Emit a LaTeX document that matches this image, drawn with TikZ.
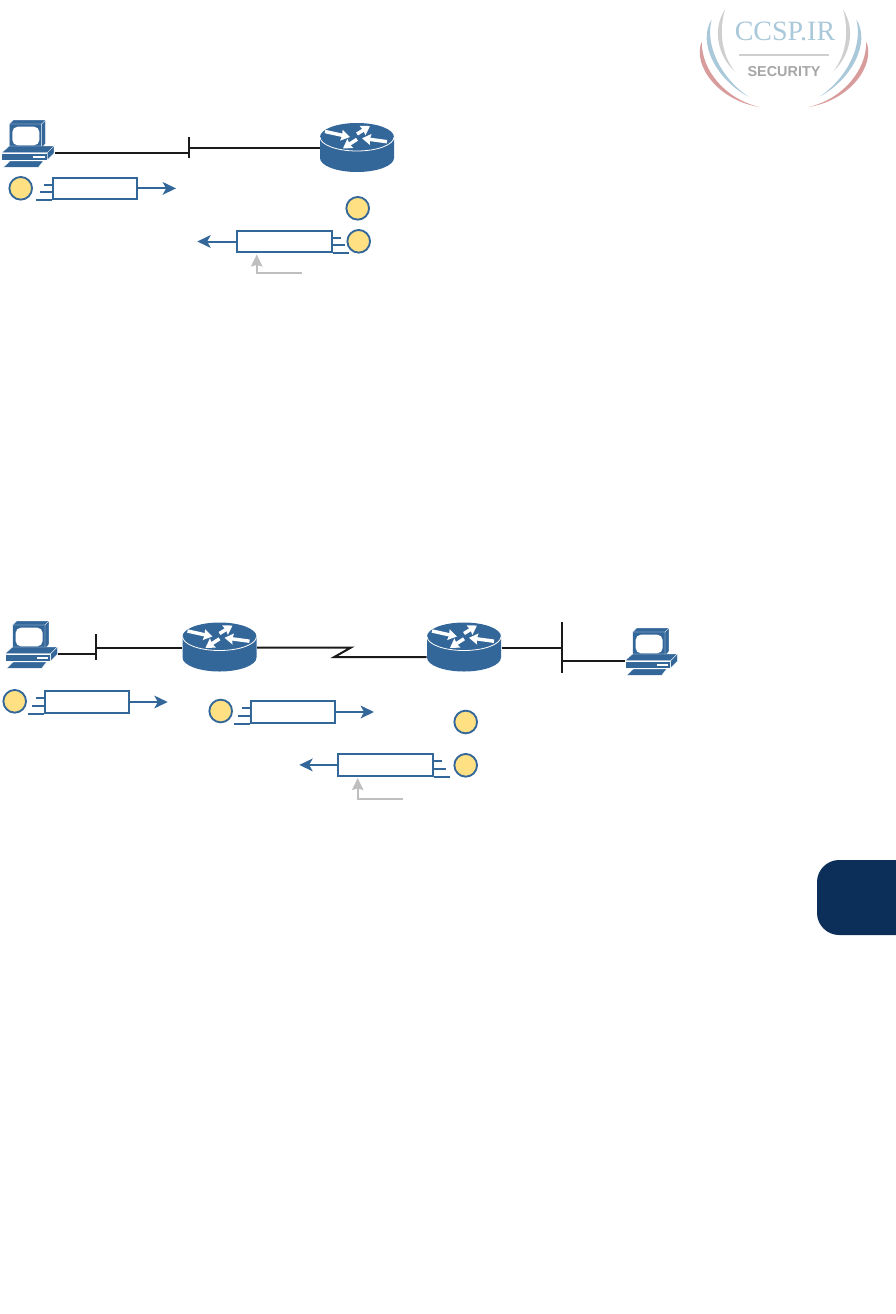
\documentclass[tikz,border=0pt]{standalone}
\usepackage{fontspec}
\setmainfont{Liberation Serif}
\newfontfamily\logosans{Liberation Sans}
\usetikzlibrary{arrows.meta,calc}
\definecolor{ciscoblue}{HTML}{336699}
\definecolor{wirek}{HTML}{1A1A1A}
\definecolor{dotfill}{HTML}{FFE184}
\definecolor{hintgray}{HTML}{BFBFBF}
\definecolor{tabnavy}{HTML}{0B2F59}
\definecolor{logoblue}{HTML}{A9C8DA}
\definecolor{logored}{HTML}{D99C9C}
\definecolor{logogray}{HTML}{CFCFCF}
\definecolor{logotext}{HTML}{A6A6A6}
\tikzset{
  wire/.style={draw=wirek,line width=1.5pt},
  bluewire/.style={draw=ciscoblue,line width=1.5pt},
  flowhead/.style={bluewire,-{Stealth[length=10pt,width=9.5pt,inset=2.6pt]}},
  hint/.style={draw=hintgray,line width=1.5pt,-{Stealth[length=9pt,width=8.5pt,inset=1.2pt]}},
  stepdot/.style={circle,draw=ciscoblue,fill=dotfill,line width=1.4pt,minimum size=17pt,inner sep=0pt},
  packetbox/.style={rectangle,draw=ciscoblue,fill=white,line width=1.5pt,minimum width=63pt,minimum height=16pt,inner sep=0pt},
  wideflip/.style={packetbox,minimum width=71.5pt},
  whitearrow/.style={draw=white,line width=2.6pt,-{Stealth[length=6.5pt,width=8pt,inset=.6pt]}},
  pcpart/.style={fill=ciscoblue,draw=white,line width=.25pt},
  router/.pic={
    \fill[ciscoblue] (-37,0) .. controls (-37,-7.7) and (-20.4,-14) .. (0,-14)
       .. controls (20.4,-14) and (37,-7.7) .. (37,0) -- (37,21)
       .. controls (37,28.7) and (20.4,35) .. (0,35)
       .. controls (-20.4,35) and (-37,28.7) .. (-37,21) -- cycle;
    \draw[white,line width=.6pt] (-37,0) .. controls (-37,7.7) and (-20.4,14) .. (0,14)
       .. controls (20.4,14) and (37,7.7) .. (37,0);
    \draw[whitearrow] (-32,-5.5) -- (-7,0);
    \draw[whitearrow] (0,-3) -- (13,-11);
    \draw[whitearrow] (30,4.7) -- (5,1.3);
    \draw[whitearrow] (0,2.3) -- (-14,11.3);
    \coordinate (-w) at (-37.5,11);
    \coordinate (-e) at (37.5,11);
  },
  computer/.pic={
    \begin{scope}[scale=1/3]
      \path[pcpart] (28,42) -- (40,30) -- (137,30) -- (137,100) -- (125,115) -- (28,115) -- cycle;
      \path[draw=white,line width=.25pt] (28,42) -- (125,42) -- (137,30) (125,42) -- (125,115);
      \fill[white,rounded corners=4pt] (37,50) rectangle (118,106);
      \path[pcpart] (5,128) -- (28,108) -- (162,108) -- (142,128) -- cycle;
      \path[pcpart] (5,128) -- (142,128) -- (142,150) -- (5,150) -- cycle;
      \path[pcpart] (142,128) -- (162,108) -- (162,130) -- (142,150) -- cycle;
      \fill[white] (100,137) rectangle (135,143);
      \path[pcpart] (10,172) -- (30,153) -- (130,153) -- (115,172) -- cycle;
    \end{scope}
    \coordinate (-e) at (55,42.7);
    \coordinate (-w) at (1.7,42.7);
  },
  logowing/.pic={
    \fill[logored] (-247,125) .. controls (-275,195) and (-200,300) .. (-74,321)
       .. controls (-172,298) and (-247,215) .. (-247,125) -- cycle;
    \fill[logoblue] (-217,58) .. controls (-262,130) and (-200,240) .. (-107,290)
       .. controls (-187,235) and (-238,140) .. (-217,58) -- cycle;
    \fill[logogray] (-177,28) .. controls (-217,90) and (-197,170) .. (-147,215)
       .. controls (-187,165) and (-196,95) .. (-177,28) -- cycle;
  }
}
\newcommand{\ticksonleft}[1]{%
  \draw[bluewire] (#1.south west) -- +(-16,0);
  \draw[bluewire] ([yshift=5.9pt]#1.south west) -- +(-12,0);
  \draw[bluewire] ([yshift=11.6pt]#1.south west) -- +(-8,0);
}
\newcommand{\ticksonright}[1]{%
  \draw[bluewire] (#1.south east) -- +(16,0);
  \draw[bluewire] ([yshift=5.9pt]#1.south east) -- +(12,0);
  \draw[bluewire] ([yshift=11.6pt]#1.south east) -- +(8,0);
}
\begin{document}
\begin{tikzpicture}[x=0.75pt,y=-0.75pt]
\useasboundingbox (0,0) rectangle (896,1314);

% chapter tab
\fill[tabnavy] (896,860) -- (839,860) .. controls (827,860) and (817,870) .. (817,882)
  -- (817,913) .. controls (817,925) and (827,935) .. (839,935) -- (896,935) -- cycle;

% logo
\begin{scope}[shift={(784,0)},x=0.25pt,y=-0.25pt]
  \pic {logowing};
  \pic[xscale=-1] {logowing};
\end{scope}
\node[text=logoblue,font=\fontsize{21pt}{21pt}\selectfont,inner sep=0pt,anchor=base] (logoname) at (785,40) {CCSP.IR};
\fill[logogray] (739,53.7) rectangle (829,56.3);
\node[text=logotext,font=\logosans\bfseries\fontsize{10.8pt}{10.8pt}\selectfont,inner sep=0pt,anchor=base] (logosub) at (784,76) {SECURITY};

% --- top diagram ---
\pic (pcA) at (0,110) {computer};
\pic (rA) at (357,137) {router};
\coordinate (barAt) at (189,137.3);
\coordinate (barAb) at (189,158.3);
\draw[wire] (barAt) -- (barAb);
\draw[wire] (pcA-e) -- (pcA-e -| barAt);
\draw[wire] (rA-w) -- (rA-w -| barAt);

\node[stepdot] (dotA) at (20.7,188.3) {};
\node[packetbox] (boxA) at (95.3,188.4) {};
\ticksonleft{boxA}
\coordinate (endA) at (176,188.4);
\draw[flowhead] (boxA.east) -- (endA);

\node[stepdot] (dotB) at (357.7,208.3) {};
\node[stepdot] (dotC) at (358.7,241.3) {};
\node[wideflip] (boxB) at (284.5,241.5) {};
\ticksonright{boxB}
\coordinate (endB) at (197.3,241.5);
\draw[flowhead] (boxB.west) -- (endB);
\coordinate (hintA) at (302,272.7);
\coordinate (hintAc) at (256.7,272.7);
\coordinate (hintAt) at (256.7,254.5);
\draw[hint] (hintA) -- (hintAc) -- (hintAt);

% --- lower diagram ---
\pic (pcB) at (3.3,611) {computer};
\pic (rB) at (219.5,636.5) {router};
\pic (rC) at (464,636.5) {router};
\pic (pcC) at (623.3,618) {computer};

\coordinate (barBt) at (96,634);
\coordinate (barBb) at (96,660);
\draw[wire] (barBt) -- (barBb);
\draw[wire] (pcB-e) -- (pcB-e -| barBt);
\draw[wire] (rB-w) -- (rB-w -| barBt);

\coordinate (zigA) at (351,647.5);
\coordinate (zigB) at (334.3,657);
\draw[wire,line join=miter] (rB-e) -- (zigA) -- (zigB) -- (zigB -| rC-w);

\coordinate (barCt) at (562,622);
\coordinate (barCb) at (562,672.7);
\draw[wire] (barCt) -- (barCb);
\draw[wire] (rC-e) -- (rC-e -| barCt);
\draw[wire] (pcC-w) -- (pcC-w -| barCt);

\node[stepdot] (dotD) at (14.7,701.3) {};
\node[packetbox] (boxC) at (86.5,702) {};
\ticksonleft{boxC}
\coordinate (endC) at (167.7,702);
\draw[flowhead] (boxC.east) -- (endC);

\node[stepdot] (dotE) at (220.7,711) {};
\node[packetbox] (boxD) at (292.5,712) {};
\ticksonleft{boxD}
\coordinate (endD) at (374,712);
\draw[flowhead] (boxD.east) -- (endD);

\node[stepdot] (dotF) at (465.7,722) {};
\node[stepdot] (dotG) at (465.7,765.3) {};
\node[wideflip] (boxE) at (385.7,764.9) {};
\ticksonright{boxE}
\coordinate (endE) at (299.3,764.9);
\draw[flowhead] (boxE.west) -- (endE);
\coordinate (hintB) at (402.7,799);
\coordinate (hintBc) at (357.7,799);
\coordinate (hintBt) at (357.7,778);
\draw[hint] (hintB) -- (hintBc) -- (hintBt);
\end{tikzpicture}
\end{document}
